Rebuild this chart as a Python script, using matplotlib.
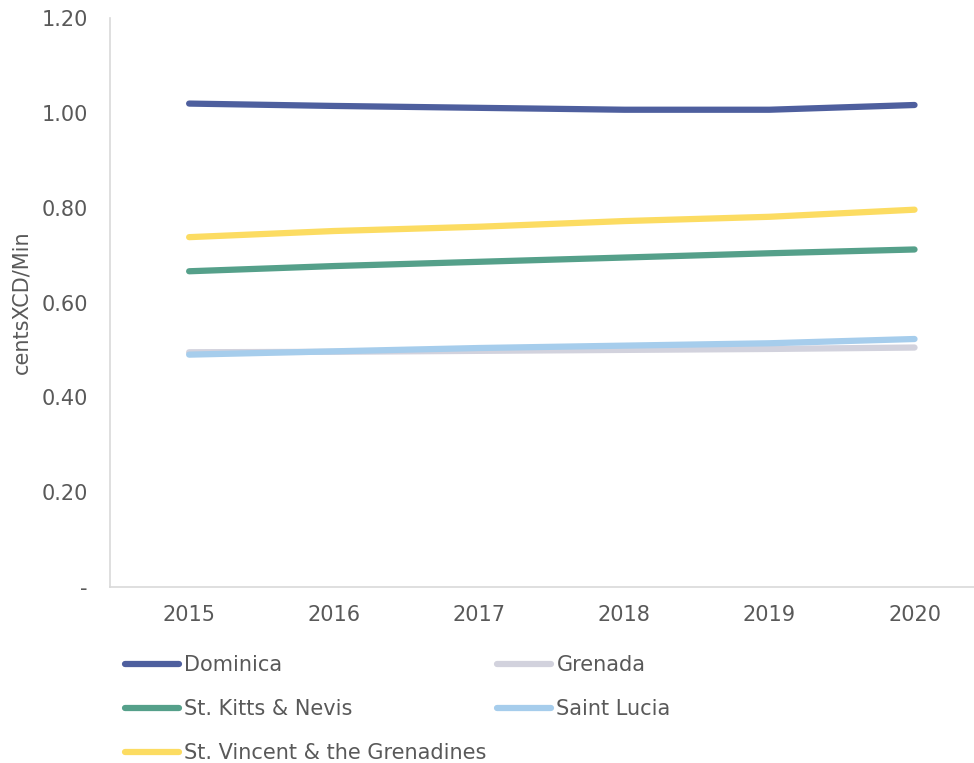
import numpy as np
import matplotlib
matplotlib.use('Agg')
import matplotlib.pyplot as plt

years = ['2015', '2016', '2017', '2018', '2019', '2020']

dominica    = [1.020, 1.015, 1.011, 1.007, 1.007, 1.017]
grenada     = [0.495, 0.496, 0.498, 0.500, 0.502, 0.505]
st_kitts    = [0.666, 0.677, 0.686, 0.695, 0.704, 0.712]
saint_lucia = [0.490, 0.497, 0.504, 0.509, 0.514, 0.523]
st_vincent  = [0.738, 0.751, 0.760, 0.772, 0.781, 0.796]

y_ticks  = [0, 0.2, 0.4, 0.6, 0.8, 1.0, 1.2]
y_labels = ['-', '0.20', '0.40', '0.60', '0.80', '1.00', '1.20']

grey = '#595959'
fs   = 15
plt.rcParams['font.family'] = 'DejaVu Sans'

fig = plt.figure(figsize=(9.74, 7.63), dpi=100)
ax  = fig.add_axes([0.113, 0.231, 0.887, 0.745])

x = np.arange(len(years))
lw = 4.5

series = [
    ('Dominica',                     dominica,    '#4E5F9E'),
    ('Grenada',                      grenada,     '#D2D2DD'),
    ('St. Kitts & Nevis',            st_kitts,    '#55A08A'),
    ('Saint Lucia',                  saint_lucia, '#A6CDEC'),
    ('St. Vincent & the Grenadines', st_vincent,  '#FCDC62'),
]

lines = {}
for name, vals, col in series:
    ln, = ax.plot(x, vals, color=col, lw=lw, solid_capstyle='round')
    lines[name] = ln

ax.set_xlim(-0.545, 5.41)
ax.set_ylim(0, 1.2)
ax.set_xticks(x)
ax.set_xticklabels(years)
ax.set_yticks(y_ticks)
ax.set_yticklabels(y_labels)
ax.tick_params(length=0, labelsize=fs, colors=grey)
ax.tick_params(axis='x', pad=13)
ax.tick_params(axis='y', pad=16)

for s in ['top', 'right']:
    ax.spines[s].set_visible(False)
for s in ['left', 'bottom']:
    ax.spines[s].set_color('#D9D9D9')
    ax.spines[s].set_linewidth(1.2)

ax.set_ylabel('centsXCD/Min', fontsize=fs, color=grey, labelpad=7)

leg_kw = dict(frameon=False, fontsize=fs, handlelength=2.6, handletextpad=0.25,
              labelspacing=1.15, labelcolor=grey, borderaxespad=0, borderpad=0)

col1 = ['Dominica', 'St. Kitts & Nevis', 'St. Vincent & the Grenadines']
col2 = ['Grenada', 'Saint Lucia']
fig.legend([lines[n] for n in col1], col1, loc='upper left',
           bbox_to_anchor=(125 / 974, 1 - 655 / 763), **leg_kw)
fig.legend([lines[n] for n in col2], col2, loc='upper left',
           bbox_to_anchor=(497 / 974, 1 - 655 / 763), **leg_kw)

fig.savefig('out.png', dpi=100)
